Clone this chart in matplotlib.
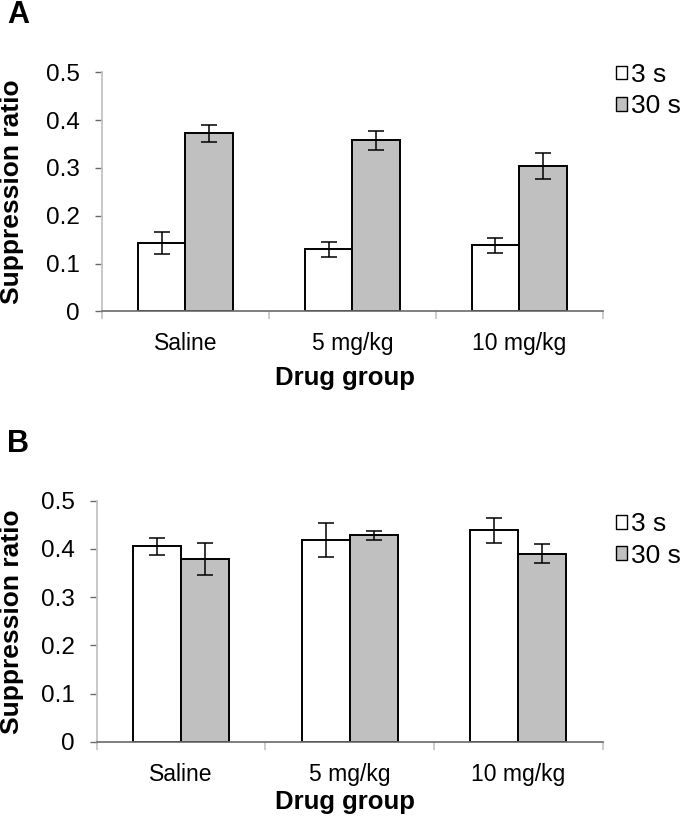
import matplotlib
matplotlib.use("Agg")
import matplotlib.pyplot as plt
from matplotlib.patches import Patch

categories = ["Saline", "5 mg/kg", "10 mg/kg"]
series = ["3 s", "30 s"]
a_3s = [0.143, 0.130, 0.138]
a_3s_err = [0.023, 0.016, 0.016]
a_30s = [0.372, 0.358, 0.304]
a_30s_err = [0.018, 0.020, 0.027]
b_3s = [0.405, 0.418, 0.439]
b_3s_err = [0.018, 0.035, 0.026]
b_30s = [0.379, 0.428, 0.390]
b_30s_err = [0.033, 0.009, 0.020]
yticks = [0, 0.1, 0.2, 0.3, 0.4, 0.5]
ytick_labels = ["0", "0.1", "0.2", "0.3", "0.4", "0.5"]

plt.rcParams["font.family"] = ["Liberation Sans", "DejaVu Sans"]

W, H = 690, 826
fig = plt.figure(figsize=(W / 100, H / 100), dpi=100)

LIGHT = "#c4c4c4"
DARK = "#6a6a6a"
GRAY = "#c0c0c0"
bw = 0.285

def fx(px):
    return px / W

def fy(py):
    return 1 - py / H

def panel(left, top, right, bottom, v3, e3, v30, e30, letter, ly, leg_y, xlab_top, ylab_x):
    ax = fig.add_axes([fx(left), fy(bottom), fx(right) - fx(left), fy(top) - fy(bottom)])
    x = list(range(len(categories)))
    ax.bar([i - bw / 2 for i in x], v3, bw, color="white", edgecolor="black", linewidth=1.4, zorder=2)
    ax.bar([i + bw / 2 for i in x], v30, bw, color=GRAY, edgecolor="black", linewidth=1.4, zorder=2)
    ax.errorbar([i - bw / 2 for i in x], v3, yerr=e3, fmt="none", ecolor="black", elinewidth=1.1, capsize=6, capthick=1.1, zorder=3)
    ax.errorbar([i + bw / 2 for i in x], v30, yerr=e30, fmt="none", ecolor="black", elinewidth=1.1, capsize=6, capthick=1.1, zorder=3)
    ax.set_xlim(-0.5, 2.5)
    ax.set_ylim(0, 0.5)
    ax.set_yticks(yticks)
    ax.set_yticklabels(ytick_labels, fontsize=17.5)
    ax.set_xticks([-0.5, 0.5, 1.5, 2.5])
    ax.set_xticklabels([])
    ax.set_xticks(x, minor=True)
    ax.set_xticklabels(categories, minor=True, fontsize=16.5)
    ax.tick_params(axis="x", which="minor", length=0, pad=15)
    ax.tick_params(axis="x", which="major", length=6, color=LIGHT, width=1.2)
    ax.tick_params(axis="y", length=5, color=DARK, width=1, pad=11)
    for s in ["top", "right"]:
        ax.spines[s].set_visible(False)
    ax.spines["left"].set_color(LIGHT)
    ax.spines["left"].set_linewidth(1.3)
    ax.spines["bottom"].set_color(DARK)
    ax.spines["bottom"].set_linewidth(1.2)
    ax.set_xlabel("Drug group", fontsize=18.5, fontweight="bold")
    ax.xaxis.set_label_coords(0.5, fy(xlab_top), transform=fig.transFigure)
    ax.set_ylabel("Suppression ratio", fontsize=19, fontweight="bold")
    ax.yaxis.label.set_va("bottom")
    ax.yaxis.set_label_coords(fx(ylab_x), (fy(top) + fy(bottom)) / 2, transform=fig.transFigure)
    fig.text(fx(7), fy(ly), letter, fontsize=22, fontweight="bold", ha="left", va="center")
    handles = [Patch(facecolor="white", edgecolor="black", linewidth=1),
               Patch(facecolor=GRAY, edgecolor="black", linewidth=1)]
    fig.legend(handles, series, loc="center left", bbox_to_anchor=(fx(616), fy(leg_y)),
               frameon=False, fontsize=19, handlelength=0.42, handleheight=0.42,
               handletextpad=0.15, labelspacing=0.28, borderaxespad=0, borderpad=0)
    return ax

panel(102, 72.3, 602.7, 311.3, a_3s, a_3s_err, a_30s, a_30s_err, "A", 15, 90.5, 366, 24)
panel(96.8, 500.7, 602.7, 741.7, b_3s, b_3s_err, b_30s, b_30s_err, "B", 444, 540, 790, 24)

fig.savefig("out.png", dpi=100)
